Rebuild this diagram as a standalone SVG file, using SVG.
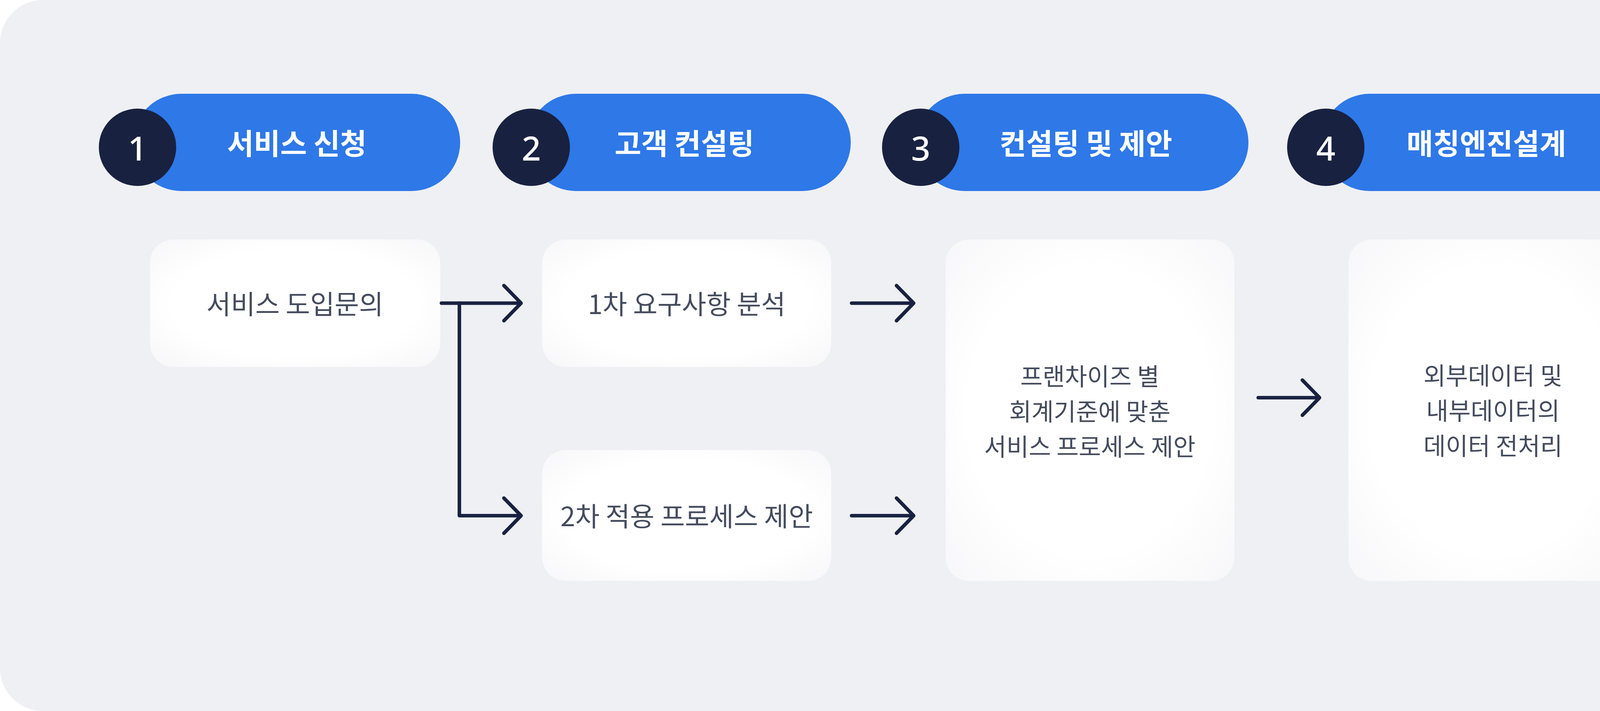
<svg xmlns="http://www.w3.org/2000/svg" width="5600" height="1820" viewBox="0 0 5600 1820">
<style>
.pill{fill:#2e78e8}
.num{fill:#18213f}
.nt{fill:#fff;font-family:"Noto Sans","Noto Sans CJK KR",sans-serif;font-size:86px;font-weight:500;text-anchor:middle;dominant-baseline:central}
.pt{fill:#fff;font-family:"Noto Sans CJK KR",sans-serif;font-size:74px;font-weight:700;text-anchor:middle;dominant-baseline:central}
.box{fill:url(#bg)}
.bt{fill:#454c5e;font-family:"Noto Sans CJK KR",sans-serif;font-size:68px;text-anchor:middle;dominant-baseline:central}
.ml{font-size:62px}
.c{fill:none;stroke:#18213f;stroke-width:9;stroke-linecap:round;stroke-linejoin:round}
</style>
<defs>
<radialGradient id="bg" cx="0.5" cy="0.5" r="0.7">
<stop offset="0.6" stop-color="#ffffff"/>
<stop offset="1" stop-color="#f7f7f9"/>
</radialGradient>
</defs>
<rect x="0" y="0" width="5600" height="1820" rx="110" fill="#eff0f4"/>
<g id="step1"><rect class="pill" x="340" y="240" width="838" height="249" rx="124.5"/><circle class="num" cx="352" cy="377" r="99"/><text class="nt" x="352" y="377">1</text><text class="pt" x="760" y="362">서비스 신청</text></g>
<g id="step2"><rect class="pill" x="1350" y="240" width="828" height="249" rx="124.5"/><circle class="num" cx="1360" cy="377" r="99"/><text class="nt" x="1360" y="377">2</text><text class="pt" x="1752" y="362">고객 컨설팅</text></g>
<g id="step3"><rect class="pill" x="2345" y="240" width="851" height="249" rx="124.5"/><circle class="num" cx="2357" cy="377" r="99"/><text class="nt" x="2357" y="377">3</text><text class="pt" x="2780" y="362">컨설팅 및 제안</text></g>
<g id="step4"><rect class="pill" x="3382" y="240" width="842" height="249" rx="124.5"/><circle class="num" cx="3394" cy="377" r="99"/><text class="nt" x="3394" y="377">4</text><text class="pt" x="3805" y="362">매칭엔진설계</text></g>
<g id="step5"><rect class="pill" x="4403" y="240" width="880" height="249" rx="124.5"/><circle class="num" cx="4415" cy="377" r="99"/><text class="nt" x="4415" y="377">5</text><text class="pt" x="4858" y="362">서비스 런칭</text></g>
<g id="n1"><rect class="box" x="384" y="613" width="743" height="326" rx="60"/><text class="bt" x="755" y="774">서비스 도입문의</text></g>
<g id="n2"><rect class="box" x="1388" y="613" width="740" height="326" rx="60"/><text class="bt" x="1758" y="774">1차 요구사항 분석</text></g>
<g id="n3"><rect class="box" x="1388" y="1152" width="740" height="335" rx="60"/><text class="bt" x="1758" y="1317">2차 적용 프로세스 제안</text></g>
<g id="n4"><rect class="box" x="2421" y="613" width="739" height="874" rx="60"/><text class="bt ml" x="2790" y="960">프랜차이즈 별</text><text class="bt ml" x="2790" y="1050">회계기준에 맞춘</text><text class="bt ml" x="2790" y="1140">서비스 프로세스 제안</text></g>
<g id="n5"><rect class="box" x="3452" y="613" width="740" height="874" rx="60"/><text class="bt ml" x="3822" y="958">외부데이터 및</text><text class="bt ml" x="3822" y="1048">내부데이터의</text><text class="bt ml" x="3822" y="1138">데이터 전처리</text></g>
<g id="n6"><rect class="box" x="4485" y="613" width="739" height="326" rx="60"/><text class="bt" x="4855" y="774">PoC 매장 테스트</text></g>
<g id="n7"><rect class="box" x="4485" y="1152" width="739" height="335" rx="60"/><text class="bt" x="4855" y="1317">전체 매장 도입</text></g>
<g id="connectors">
<path class="c" d="M1130 776H1334M1290 731L1334 776L1290 821"/>
<path class="c" d="M1176 776V1320H1334M1290 1275L1334 1320L1290 1365"/>
<path class="c" d="M2180 776H2339M2295 731L2339 776L2295 821"/>
<path class="c" d="M2180 1320H2339M2295 1275L2339 1320L2295 1365"/>
<path class="c" d="M3221 1018H3378M3334 973L3378 1018L3334 1063"/>
<path class="c" d="M4237 776H4396M4352 731L4396 776L4352 821"/>
<path class="c" d="M4856 967V1124M4811 1080L4856 1124L4901 1080"/>
</g>
</svg>
